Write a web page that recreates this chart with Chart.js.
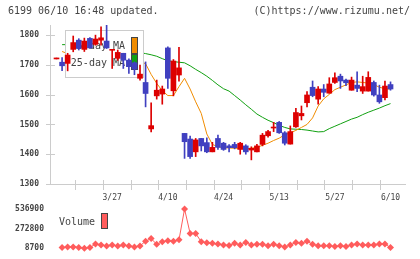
<!DOCTYPE html>
<html>
<head>
<meta charset="utf-8">
<script src="https://cdn.jsdelivr.net/npm/chart.js@4.4.1/dist/chart.umd.min.js"></script>
<style>
  html, body { margin: 0; padding: 0; background: #fff; }
  #wrap { position: relative; width: 420px; height: 259px; overflow: hidden; }
  #price { position: absolute; left: 0; top: 0; }
  #vol { position: absolute; left: 0; top: 195px; }
  .t { position: absolute; top: 5px; font: 10px "DejaVu Sans Mono", monospace; color: #444; white-space: pre; }
</style>
</head>
<body>
<div id="wrap">
  <canvas id="price" width="420" height="205"></canvas>
  <canvas id="vol" width="420" height="64"></canvas>
  <div class="t" style="left:8px">6199 06/10 16:48 updated.</div>
  <div class="t" style="right:10px">(C)https://www.rizumu.net/</div>
</div>
<script>
// daily candles 3/12 .. 6/10, red = up, blue = down
const dates = ['3/12','3/13','3/14','3/15','3/18','3/19','3/21','3/22','3/25','3/26',
  '3/27','3/28','3/29','4/1','4/2','4/3','4/4','4/5','4/8','4/9',
  '4/10','4/11','4/12','4/15','4/16','4/17','4/18','4/19','4/22','4/23',
  '4/24','4/25','4/26','4/30','5/1','5/2','5/7','5/8','5/9','5/10',
  '5/13','5/14','5/15','5/16','5/17','5/20','5/21','5/22','5/23','5/24',
  '5/27','5/28','5/29','5/30','5/31','6/3','6/4','6/5','6/6','6/7','6/10'];

const open  = [1720,1709,1705,1752,1783,1752,1789,1769,1783,1780,
  1749,1722,1739,1716,1707,1655,1641,1485,1596,1602,
  1757,1613,1666,1470,1451,1408,1453,1439,1408,1453,
  1437,1428,1433,1416,1428,1414,1408,1433,1462,1488,
  1507,1472,1434,1492,1529,1573,1625,1585,1619,1605,
  1641,1662,1649,1615,1632,1612,1612,1641,1599,1590,1634];
const high  = [1723,1725,1739,1797,1788,1790,1792,1800,1828,1833,
  1752,1750,1739,1720,1710,1699,1710,1573,1649,1629,
  1761,1718,1759,1470,1461,1453,1453,1455,1440,1464,
  1440,1432,1440,1440,1432,1425,1433,1470,1480,1507,
  1510,1476,1495,1554,1562,1610,1646,1627,1634,1657,
  1673,1669,1652,1659,1677,1662,1677,1646,1632,1646,1643];
const low   = [1720,1681,1680,1744,1750,1745,1755,1766,1766,1755,
  1688,1715,1688,1671,1667,1649,1559,1475,1585,1568,
  1621,1596,1645,1386,1386,1392,1411,1405,1408,1416,
  1413,1408,1418,1400,1400,1381,1408,1428,1457,1476,
  1470,1431,1434,1490,1515,1559,1593,1568,1593,1605,
  1638,1621,1630,1615,1610,1604,1612,1595,1571,1582,1615];
const close = [1723,1697,1733,1775,1755,1780,1757,1787,1791,1757,
  1751,1742,1716,1694,1686,1669,1604,1496,1615,1619,
  1655,1713,1690,1442,1392,1448,1428,1408,1423,1423,
  1416,1422,1422,1437,1408,1420,1428,1464,1476,1491,
  1472,1437,1476,1540,1537,1599,1597,1619,1608,1636,
  1657,1646,1640,1649,1621,1627,1658,1599,1576,1629,1619];

const ma5 = [null,1745,1738,1745,1750,1760,1762,1772,1774,1772,
  1768,1756,1743,1730,1722,1712,1704,1668,1638,1613,
  1597,1597,1627,1655,1619,1576,1537,1468,1433,1425,
  1422,1421,1420,1420,1419,1420,1423,1430,1437,1446,
  1454,1465,1472,1480,1490,1500,1522,1562,1586,1601,
  1617,1625,1633,1641,1643,1641,1639,1634,1625,1620,1619];
const ma25 = [null,1768,1768,1768,1769,1770,1770,1771,1771,1770,
  1766,1760,1754,1748,1744,1741,1738,1734,1729,1721,
  1714,1711,1709,1707,1697,1685,1674,1662,1648,1633,
  1620,1612,1597,1582,1566,1551,1535,1524,1514,1506,
  1497,1490,1485,1484,1483,1481,1478,1475,1476,1486,
  1494,1502,1510,1518,1524,1533,1541,1548,1555,1563,1570];

const volume = [null,17000,26000,26000,17000,8700,17000,65000,52000,39000,
  52000,39000,52000,39000,26000,39000,104000,138000,61000,95000,
  108000,104000,121000,536900,208000,208000,95000,82000,74000,65000,
  52000,45000,74000,52000,87000,52000,61000,61000,43000,61000,
  43000,26000,52000,87000,74000,104000,61000,43000,43000,43000,
  30000,43000,30000,52000,65000,52000,52000,52000,65000,65000,17000];

const priceTicks = [1300, 1400, 1500, 1600, 1700, 1800];
const volTicks = [8700, 272800, 536900];
const labelAt = [10, 20, 30, 40, 50, 60];

const X_MIN = -1.17, X_MAX = 62.6;
const UP = '#dd0000', DOWN = '#4040c0';
const ORANGE = '#f08c00', GREEN = '#10a010', VOLC = '#ff5c5c';
const AXIS = '#cccccc', TXT = '#444444';
const MONO = '"DejaVu Sans Mono", monospace';

const idx = dates.map((d, i) => i);
const colours = idx.map(i => close[i] >= open[i] ? UP : DOWN);
const pts = arr => arr.map((v, i) => ({ x: i, y: v }));
const plain = v => String(v);

// short tick marks crossing the axes
const marks = {
  id: 'marks',
  beforeDatasetsDraw(chart) {
    const { ctx, scales: { x, y, xg } } = chart;
    ctx.save();
    ctx.strokeStyle = AXIS;
    ctx.lineWidth = 1;
    ctx.beginPath();
    for (let k = 0; k <= 11; k++) {
      const px = Math.round(xg.getPixelForValue(k)) + 0.5;
      ctx.moveTo(px, y.bottom - 4);
      ctx.lineTo(px, y.bottom + 6);
    }
    for (const t of priceTicks) {
      const py = Math.round(y.getPixelForValue(t)) + 0.5;
      ctx.moveTo(x.left - 4, py);
      ctx.lineTo(x.left + 5, py);
    }
    ctx.stroke();
    ctx.restore();
  }
};

// legend panel sits above the MA lines but below the candles
const legendBox = {
  id: 'legendBox',
  beforeDatasetDraw(chart, args) {
    if (chart.data.datasets[args.index].label !== 'wick') return;
    const c = chart.ctx;
    c.save();
    c.fillStyle = '#fff';
    c.fillRect(65, 30, 78, 47);
    c.strokeStyle = AXIS;
    c.lineWidth = 1;
    c.strokeRect(65.5, 30.5, 78, 47);
    c.font = '10px ' + MONO;
    c.fillStyle = TXT;
    c.textAlign = 'right';
    c.textBaseline = 'middle';
    c.fillText('5-day MA', 125, 46);
    c.fillText('25-day MA', 125, 63);
    c.strokeStyle = '#444';
    c.fillStyle = ORANGE;
    c.fillRect(131, 37, 6, 16);
    c.strokeRect(131.5, 37.5, 6, 16);
    c.fillStyle = GREEN;
    c.fillRect(131, 54, 6, 15);
    c.strokeRect(131.5, 54.5, 6, 15);
    c.restore();
  }
};

new Chart(document.getElementById('price'), {
  type: 'bar',
  data: {
    datasets: [
      { type: 'line', label: '5-day MA', data: pts(ma5), borderColor: ORANGE, borderWidth: 1,
        pointRadius: 0, tension: 0, order: 3 },
      { type: 'line', label: '25-day MA', data: pts(ma25), borderColor: GREEN, borderWidth: 1,
        pointRadius: 0, tension: 0, order: 3 },
      { label: 'wick', data: idx.map(i => ({ x: i, y: [low[i], high[i]] })), backgroundColor: colours,
        barThickness: 1, grouped: false, order: 2 },
      { label: 'body', data: idx.map(i => ({ x: i, y: [open[i], close[i]] })), backgroundColor: colours,
        barThickness: 5, minBarLength: 1, grouped: false, order: 1 },
    ]
  },
  options: {
    responsive: false,
    animation: false,
    devicePixelRatio: 1,
    layout: { padding: { left: 0, right: 15, top: 25, bottom: 0 } },
    plugins: { legend: { display: false }, tooltip: { enabled: false } },
    scales: {
      x: {
        type: 'linear', min: X_MIN, max: X_MAX, offset: false,
        afterFit: s => { s.height = 21; },
        afterBuildTicks: s => { s.ticks = labelAt.map(v => ({ value: v })); },
        ticks: { callback: v => dates[v], color: TXT, font: { family: MONO, size: 8 },
          padding: 3, maxRotation: 0, autoSkip: false },
        grid: { display: false, tickLength: 6 },
        border: { color: AXIS },
      },
      xg: { type: 'linear', display: false, min: 0, max: 11 },
      y: {
        min: 1300, max: 1834, beginAtZero: false,
        afterFit: s => { s.width = 50; },
        afterBuildTicks: s => { s.ticks = priceTicks.map(v => ({ value: v })); },
        ticks: { callback: plain, color: TXT, font: { family: MONO, size: 8, weight: 'bold' }, padding: 3 },
        grid: { display: false, tickLength: 8 },
        border: { color: AXIS },
      },
    },
  },
  plugins: [marks, legendBox],
});

const volLegend = {
  id: 'volLegend',
  afterDraw(chart) {
    const c = chart.ctx;
    c.save();
    c.font = '10px ' + MONO;
    c.fillStyle = TXT;
    c.textAlign = 'left';
    c.textBaseline = 'middle';
    c.fillText('Volume', 59, 27);
    c.fillStyle = VOLC;
    c.fillRect(101, 18, 6, 15);
    c.strokeStyle = '#444';
    c.lineWidth = 1;
    c.strokeRect(101.5, 18.5, 6, 15);
    c.restore();
  }
};

new Chart(document.getElementById('vol'), {
  type: 'line',
  data: {
    datasets: [{
      label: 'Volume', data: pts(volume), borderColor: VOLC, backgroundColor: VOLC,
      borderWidth: 1, pointStyle: 'rectRot', pointRadius: 3.5, pointBorderWidth: 0,
      tension: 0, clip: false,
    }]
  },
  options: {
    responsive: false,
    animation: false,
    devicePixelRatio: 1,
    layout: { padding: { left: 0, right: 15, top: 14, bottom: 10 } },
    plugins: { legend: { display: false }, tooltip: { enabled: false } },
    scales: {
      x: { type: 'linear', min: X_MIN, max: X_MAX, display: false },
      y: {
        min: 8700, max: 536900,
        afterFit: s => { s.width = 50; },
        afterBuildTicks: s => { s.ticks = volTicks.map(v => ({ value: v })); },
        ticks: { callback: plain, color: TXT, font: { family: MONO, size: 8, weight: 'bold' }, padding: 6 },
        grid: { display: false, drawTicks: false },
        border: { display: false },
      },
    },
  },
  plugins: [volLegend],
});
</script>
</body>
</html>
